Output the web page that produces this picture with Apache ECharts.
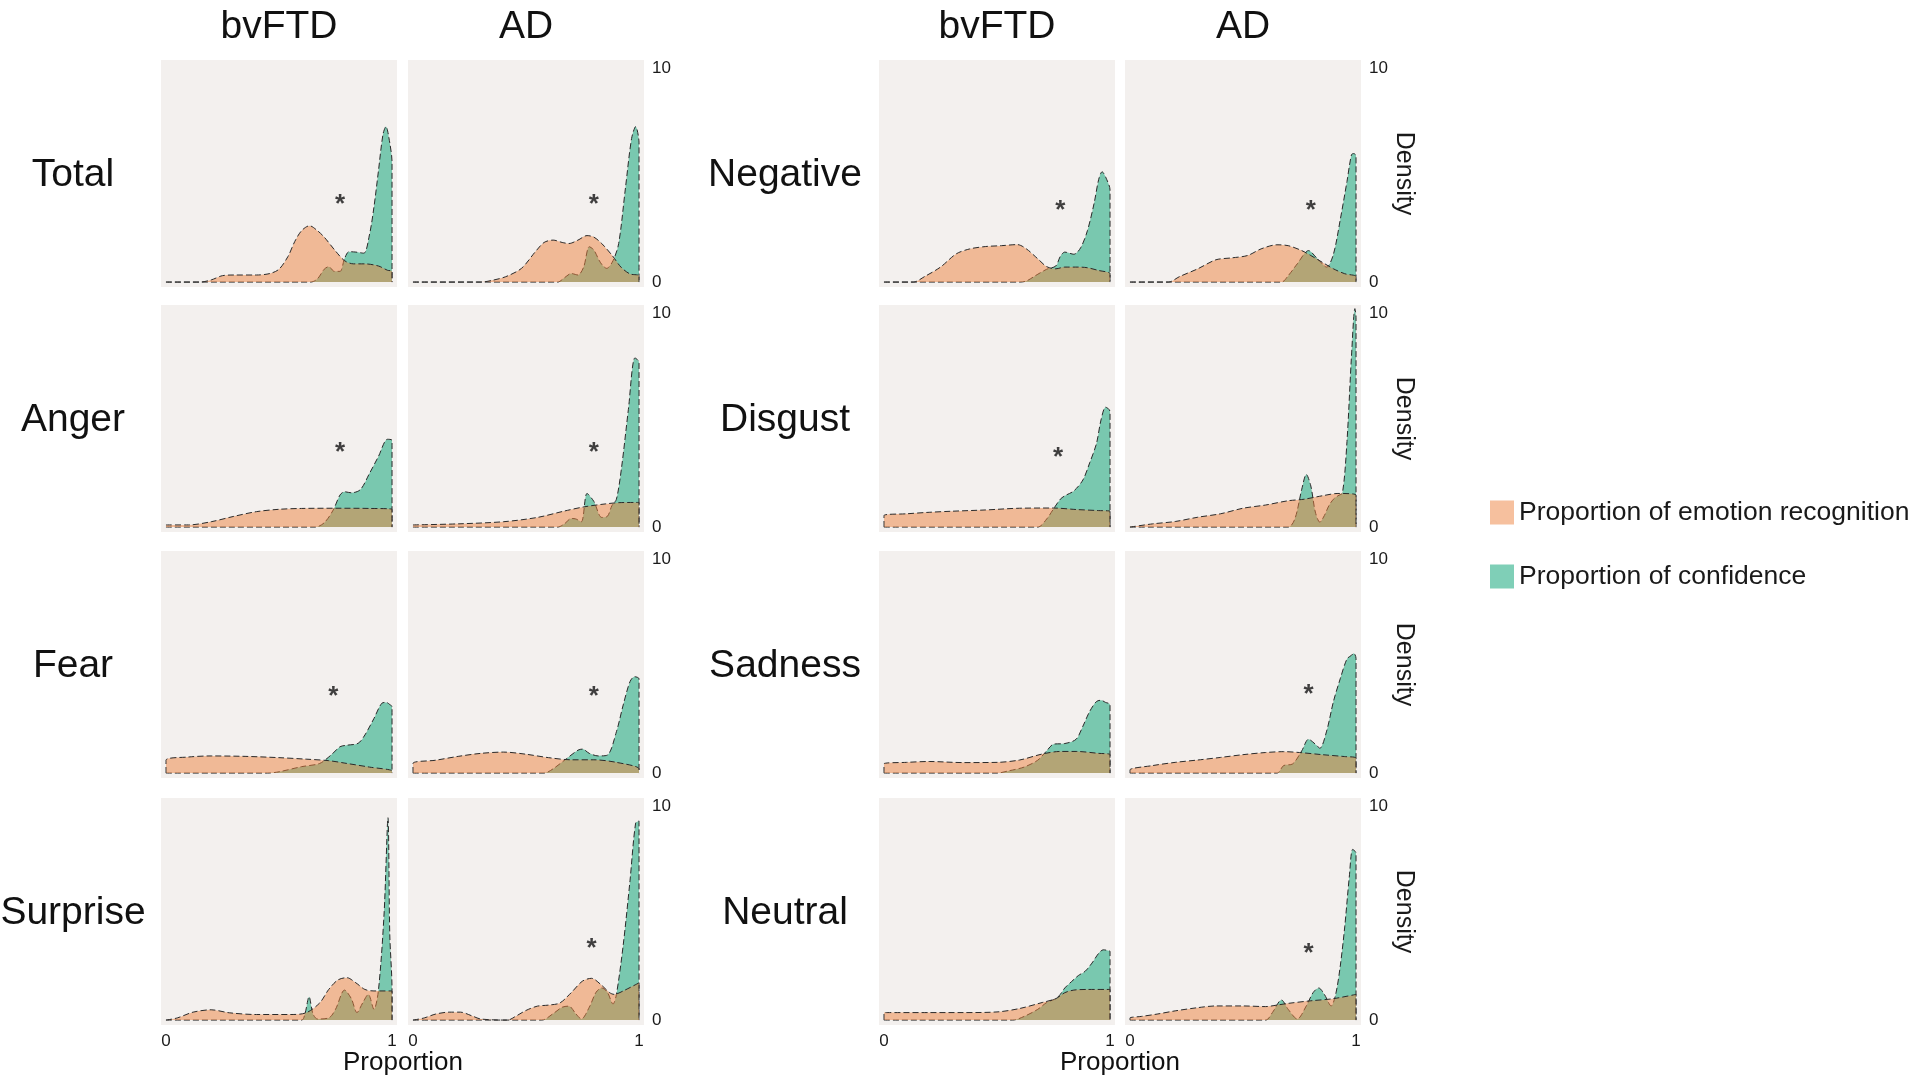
<!DOCTYPE html>
<html>
<head>
<meta charset="utf-8">
<script src="https://cdn.jsdelivr.net/npm/echarts@6/dist/echarts.min.js"></script>
<style>html,body{margin:0;padding:0;background:#fff}#c{width:1920px;height:1083px}</style>
</head>
<body>
<div id="c"></div>
<script>
// ---------- categories / ticks ----------
const groupNames = ['bvFTD', 'AD'];
const rowsLeft = ['Total', 'Anger', 'Fear', 'Surprise'];
const rowsRight = ['Negative', 'Disgust', 'Sadness', 'Neutral'];
const seriesNames = ['Proportion of emotion recognition', 'Proportion of confidence'];
const xTicks = [0, 1];
const yTicks = [0, 10];
const xTitle = 'Proportion';
const yTitle = 'Density';

// ---------- density curves [proportion, density] ----------
const totalBvftdRec = [[0,0],[0.15,0],[0.2,0.1],[0.25,0.3],[0.3,0.33],[0.4,0.33],[0.46,0.4],[0.5,0.6],[0.54,1.2],[0.57,1.9],[0.6,2.4],[0.635,2.63],[0.67,2.4],[0.7,2.1],[0.75,1.45],[0.79,1.0],[0.83,0.85],[0.88,0.85],[0.94,0.75],[0.98,0.55],[1,0.5],[1,0]];
const totalBvftdConf = [[0,0],[0.64,0],[0.67,0.15],[0.7,0.6],[0.72,0.72],[0.745,0.5],[0.77,0.5],[0.79,1.1],[0.81,1.42],[0.84,1.4],[0.875,1.35],[0.9,2.2],[0.92,3.5],[0.94,5.2],[0.96,6.9],[0.973,7.26],[0.99,6.5],[1,5.6],[1,0]];
const totalAdRec = [[0,0],[0.3,0],[0.35,0.08],[0.41,0.25],[0.48,0.64],[0.54,1.4],[0.58,1.85],[0.62,1.96],[0.66,1.85],[0.69,1.8],[0.73,1.96],[0.77,2.17],[0.8,2.1],[0.835,1.8],[0.88,1.26],[0.92,0.7],[0.96,0.38],[1,0.3],[1,0]];
const totalAdConf = [[0,0],[0.64,0],[0.67,0.2],[0.7,0.4],[0.73,0.33],[0.755,0.7],[0.78,1.65],[0.8,1.5],[0.83,0.9],[0.857,0.64],[0.885,1.0],[0.91,1.8],[0.94,4.4],[0.967,6.7],[0.985,7.26],[1,6.5],[1,0]];

const angerBvftdRec = [[0,0.1],[0.1,0.1],[0.2,0.25],[0.3,0.5],[0.4,0.72],[0.5,0.83],[0.6,0.87],[0.75,0.88],[0.9,0.87],[1,0.83],[1,0]];
const angerBvftdConf = [[0,0],[0.66,0],[0.7,0.2],[0.74,0.8],[0.77,1.5],[0.79,1.65],[0.82,1.6],[0.86,1.75],[0.9,2.5],[0.94,3.3],[0.98,4.1],[1,4.05],[1,0]];
const angerAdRec = [[0,0.1],[0.2,0.15],[0.4,0.25],[0.55,0.45],[0.67,0.75],[0.76,0.95],[0.85,1.08],[0.91,1.14],[1,1.15],[1,0]];
const angerAdConf = [[0,0],[0.64,0],[0.67,0.15],[0.7,0.4],[0.72,0.38],[0.745,0.25],[0.77,1.57],[0.8,1.2],[0.835,0.45],[0.86,0.5],[0.88,1.0],[0.9,1.3],[0.923,2.8],[0.953,5.5],[0.982,7.9],[1,7.7],[1,0]];

const fearBvftdRec = [[0,0],[0,0.6],[0.1,0.75],[0.2,0.8],[0.35,0.78],[0.5,0.72],[0.62,0.65],[0.72,0.58],[0.8,0.45],[0.9,0.28],[1,0.1],[1,0]];
const fearBvftdConf = [[0,0],[0.45,0],[0.5,0.06],[0.6,0.3],[0.68,0.45],[0.73,0.84],[0.77,1.23],[0.8,1.3],[0.85,1.39],[0.88,1.78],[0.92,2.55],[0.955,3.26],[0.975,3.3],[0.99,3.2],[1,3.1],[1,0]];
const fearAdRec = [[0,0],[0,0.45],[0.1,0.6],[0.2,0.78],[0.3,0.92],[0.4,0.98],[0.5,0.88],[0.6,0.72],[0.7,0.62],[0.8,0.62],[0.9,0.5],[1,0.2],[1,0]];
const fearAdConf = [[0,0],[0.58,0],[0.62,0.2],[0.68,0.68],[0.73,1.07],[0.75,1.12],[0.78,0.92],[0.82,0.8],[0.86,0.84],[0.9,1.93],[0.93,3.18],[0.96,4.27],[0.98,4.5],[1,4.4],[1,0]];

const surpriseBvftdRec = [[0,0],[0.05,0.1],[0.12,0.37],[0.2,0.48],[0.28,0.34],[0.4,0.26],[0.55,0.26],[0.62,0.34],[0.68,0.8],[0.72,1.43],[0.76,1.87],[0.8,1.98],[0.84,1.74],[0.88,1.43],[0.92,1.36],[1,1.36],[1,0]];
const surpriseBvftdConf = [[0,0],[0.6,0],[0.615,0.3],[0.633,1.09],[0.65,0.3],[0.67,0.05],[0.72,0.1],[0.75,0.5],[0.79,1.4],[0.82,1.0],[0.845,0.35],[0.87,0.8],[0.895,1.2],[0.92,0.5],[0.94,1.4],[0.965,5.0],[0.982,9.45],[0.99,4.0],[1,1.4],[1,0]];
const surpriseAdRec = [[0,0],[0.05,0.1],[0.1,0.28],[0.16,0.37],[0.21,0.37],[0.26,0.2],[0.3,0.05],[0.42,0],[0.45,0.15],[0.5,0.45],[0.55,0.65],[0.6,0.7],[0.65,0.8],[0.7,1.28],[0.75,1.82],[0.79,1.95],[0.83,1.67],[0.87,1.28],[0.89,1.2],[0.93,1.36],[1,1.74],[1,0]];
const surpriseAdConf = [[0,0],[0.57,0],[0.62,0.3],[0.66,0.6],[0.69,0.65],[0.72,0.3],[0.745,0.05],[0.78,0.6],[0.81,1.3],[0.835,1.5],[0.86,1.3],[0.885,0.75],[0.9,1.2],[0.93,3.5],[0.96,6.5],[0.985,9.2],[1,9.3],[1,0]];

const negativeBvftdRec = [[0,0],[0.13,0],[0.18,0.26],[0.25,0.7],[0.32,1.32],[0.38,1.55],[0.45,1.66],[0.52,1.7],[0.59,1.75],[0.63,1.55],[0.68,1.09],[0.72,0.72],[0.76,0.62],[0.8,0.7],[0.86,0.7],[0.9,0.67],[0.95,0.54],[1,0.39],[1,0]];
const negativeBvftdConf = [[0,0],[0.6,0],[0.63,0.05],[0.67,0.3],[0.72,0.6],[0.76,0.75],[0.78,1.2],[0.8,1.4],[0.84,1.3],[0.87,1.6],[0.9,2.4],[0.93,3.7],[0.95,4.8],[0.965,5.15],[0.985,4.8],[1,4.3],[1,0]];
const negativeAdRec = [[0,0],[0.17,0],[0.22,0.26],[0.3,0.62],[0.38,1.04],[0.45,1.13],[0.52,1.24],[0.58,1.55],[0.65,1.74],[0.7,1.7],[0.76,1.47],[0.8,1.24],[0.85,0.93],[0.9,0.62],[0.95,0.39],[1,0.26],[1,0]];
const negativeAdConf = [[0,0],[0.67,0],[0.7,0.3],[0.74,0.85],[0.79,1.47],[0.83,1.08],[0.87,0.7],[0.9,1.3],[0.93,2.9],[0.96,4.7],[0.98,5.95],[0.99,6.0],[1,5.9],[1,0]];

const disgustBvftdRec = [[0,0],[0,0.54],[0.1,0.62],[0.2,0.69],[0.3,0.74],[0.45,0.8],[0.6,0.88],[0.75,0.89],[0.85,0.82],[0.95,0.77],[1,0.74],[1,0]];
const disgustBvftdConf = [[0,0],[0.68,0],[0.72,0.38],[0.75,0.85],[0.78,1.3],[0.8,1.46],[0.84,1.69],[0.88,2.2],[0.91,3.0],[0.94,3.9],[0.96,5.0],[0.98,5.6],[0.99,5.55],[1,5.4],[1,0]];
const disgustAdRec = [[0,0],[0.1,0.15],[0.2,0.26],[0.3,0.46],[0.4,0.62],[0.5,0.88],[0.6,1.03],[0.7,1.23],[0.77,1.3],[0.85,1.46],[0.92,1.57],[1,1.5],[1,0]];
const disgustAdConf = [[0,0],[0.7,0],[0.73,0.4],[0.76,1.77],[0.78,2.46],[0.8,1.92],[0.82,0.7],[0.84,0.23],[0.86,0.54],[0.88,1.0],[0.9,1.3],[0.92,1.46],[0.94,1.6],[0.96,4.0],[0.98,8.0],[0.995,10.2],[1,9.8],[1,0]];

const sadnessBvftdRec = [[0,0],[0,0.43],[0.1,0.5],[0.2,0.54],[0.35,0.49],[0.5,0.5],[0.6,0.61],[0.7,0.89],[0.78,1.01],[0.85,1.01],[0.95,0.92],[1,0.86],[1,0]];
const sadnessBvftdConf = [[0,0],[0.5,0],[0.55,0.1],[0.62,0.28],[0.68,0.6],[0.72,1.04],[0.75,1.35],[0.8,1.38],[0.85,1.58],[0.88,2.19],[0.91,2.88],[0.94,3.34],[0.96,3.4],[0.98,3.3],[1,3.2],[1,0]];
const sadnessAdRec = [[0,0],[0,0.15],[0.1,0.35],[0.2,0.5],[0.3,0.61],[0.4,0.73],[0.5,0.86],[0.6,0.96],[0.68,1.0],[0.75,0.96],[0.85,0.86],[0.95,0.77],[1,0.7],[1,0]];
const sadnessAdConf = [[0,0],[0.65,0],[0.68,0.35],[0.72,0.43],[0.76,1.04],[0.79,1.58],[0.82,1.35],[0.84,1.16],[0.87,1.96],[0.9,3.34],[0.93,4.4],[0.96,5.33],[0.98,5.5],[0.99,5.6],[1,5.36],[1,0]];

const neutralBvftdRec = [[0,0],[0,0.35],[0.2,0.35],[0.35,0.35],[0.5,0.38],[0.6,0.54],[0.7,0.82],[0.76,1.0],[0.8,1.28],[0.84,1.4],[0.9,1.43],[1,1.43],[1,0]];
const neutralBvftdConf = [[0,0],[0.57,0],[0.62,0.17],[0.68,0.5],[0.72,0.82],[0.76,1.0],[0.78,1.2],[0.8,1.5],[0.83,1.8],[0.86,2.08],[0.89,2.28],[0.92,2.66],[0.95,3.12],[0.97,3.28],[0.99,3.25],[1,3.2],[1,0]];
const neutralAdRec = [[0,0],[0,0.1],[0.05,0.17],[0.12,0.28],[0.2,0.43],[0.3,0.58],[0.38,0.66],[0.5,0.66],[0.6,0.63],[0.65,0.7],[0.7,0.78],[0.8,0.9],[0.9,1.0],[1,1.2],[1,0]];
const neutralAdConf = [[0,0],[0.6,0],[0.63,0.35],[0.67,0.94],[0.7,0.5],[0.74,0.05],[0.78,0.66],[0.81,1.28],[0.835,1.5],[0.86,1.2],[0.89,0.66],[0.91,1.2],[0.93,2.5],[0.95,4.35],[0.97,6.66],[0.985,7.97],[1,7.8],[1,0]];

// ---------- significance markers [proportion, density] ----------
const starTotalBvftd = [0.77, 3.85];
const starTotalAd = [0.80, 3.85];
const starAngerBvftd = [0.77, 3.7];
const starAngerAd = [0.80, 3.7];
const starFearBvftd = [0.74, 3.8];
const starFearAd = [0.80, 3.8];
const starSurpriseAd = [0.79, 3.55];
const starNegativeBvftd = [0.78, 3.55];
const starNegativeAd = [0.80, 3.55];
const starDisgustBvftd = [0.77, 3.45];
const starSadnessAd = [0.79, 3.9];
const starNeutralAd = [0.79, 3.35];

// ---------- panel table built from the arrays ----------
const panels = [
  {g:0,r:0,c:0,rec:totalBvftdRec,conf:totalBvftdConf,star:starTotalBvftd},
  {g:0,r:0,c:1,rec:totalAdRec,conf:totalAdConf,star:starTotalAd},
  {g:0,r:1,c:0,rec:angerBvftdRec,conf:angerBvftdConf,star:starAngerBvftd},
  {g:0,r:1,c:1,rec:angerAdRec,conf:angerAdConf,star:starAngerAd},
  {g:0,r:2,c:0,rec:fearBvftdRec,conf:fearBvftdConf,star:starFearBvftd},
  {g:0,r:2,c:1,rec:fearAdRec,conf:fearAdConf,star:starFearAd},
  {g:0,r:3,c:0,rec:surpriseBvftdRec,conf:surpriseBvftdConf,star:null},
  {g:0,r:3,c:1,rec:surpriseAdRec,conf:surpriseAdConf,star:starSurpriseAd},
  {g:1,r:0,c:0,rec:negativeBvftdRec,conf:negativeBvftdConf,star:starNegativeBvftd},
  {g:1,r:0,c:1,rec:negativeAdRec,conf:negativeAdConf,star:starNegativeAd},
  {g:1,r:1,c:0,rec:disgustBvftdRec,conf:disgustBvftdConf,star:starDisgustBvftd},
  {g:1,r:1,c:1,rec:disgustAdRec,conf:disgustAdConf,star:null},
  {g:1,r:2,c:0,rec:sadnessBvftdRec,conf:sadnessBvftdConf,star:null},
  {g:1,r:2,c:1,rec:sadnessAdRec,conf:sadnessAdConf,star:starSadnessAd},
  {g:1,r:3,c:0,rec:neutralBvftdRec,conf:neutralBvftdConf,star:null},
  {g:1,r:3,c:1,rec:neutralAdRec,conf:neutralAdConf,star:starNeutralAd}
];

// ---------- layout / style ----------
const FONT = '"Liberation Sans", Arial, Helvetica, sans-serif';
const ORANGE = 'rgba(237,130,62,0.5)';
const GREEN = 'rgba(0,160,112,0.5)';
const OUTLINE = {color:'#2a2a2a', width:1, type:[6,3]};
const lefts = [[161,408],[879,1125]];
const tops = [60,305,551,798];
const W = 236, H = 227;

const grid = [], xAxis = [], yAxis = [], series = [];
panels.forEach((p, i) => {
  const L = lefts[p.g][p.c], T = tops[p.r];
  grid.push({left:L, top:T, width:W, height:H, show:true, backgroundColor:'#f3f0ee', borderWidth:0});
  xAxis.push({
    type:'value', gridIndex:i, min:-0.022, max:1.022,
    axisLine:{show:false}, axisTick:{show:false}, splitLine:{show:false},
    axisLabel:{show:p.r===3, customValues:xTicks, margin:8, fontSize:17, color:'#1a1a1a', fontFamily:FONT}
  });
  yAxis.push({
    type:'value', gridIndex:i, position:'right', min:-0.23, max:10.37,
    axisLine:{show:false}, axisTick:{show:false}, splitLine:{show:false},
    axisLabel:{show:p.c===1, customValues:yTicks, margin:8, fontSize:17, color:'#1a1a1a', fontFamily:FONT},
    name:(p.g===1 && p.c===1) ? yTitle : '', nameLocation:'middle', nameRotate:-90, nameGap:30,
    nameTextStyle:{fontSize:25, color:'#1a1a1a', fontFamily:FONT}
  });
  series.push({
    type:'line', name:seriesNames[1], xAxisIndex:i, yAxisIndex:i, data:p.conf,
    smooth:0.3, symbol:'none', itemStyle:{color:GREEN}, lineStyle:OUTLINE,
    areaStyle:{color:GREEN, opacity:1}, z:2, silent:true
  });
  series.push({
    type:'line', name:seriesNames[0], xAxisIndex:i, yAxisIndex:i, data:p.rec,
    smooth:0.3, symbol:'none', itemStyle:{color:ORANGE}, lineStyle:OUTLINE,
    areaStyle:{color:ORANGE, opacity:1}, z:3, silent:true
  });
  if (p.star) {
    series.push({
      type:'scatter', xAxisIndex:i, yAxisIndex:i, data:[p.star], symbolSize:1,
      itemStyle:{color:'transparent'}, silent:true, z:5,
      label:{show:true, position:'inside', formatter:'*', fontSize:26, fontWeight:'bold', color:'#111', fontFamily:FONT, offset:[0,5]}
    });
  }
});

const textEl = (txt, x, y, size) => ({
  type:'text', x:x, y:y, silent:true,
  style:{text:txt, fontSize:size, fontFamily:FONT, fill:'#111',
         align:'center', verticalAlign:'middle', textAlign:'center', textVerticalAlign:'middle'}
});
const graphic = [];
[[279,526],[997,1243]].forEach(cols => cols.forEach((cx, c) => graphic.push(textEl(groupNames[c], cx, 27, 39))));
rowsLeft.forEach((t, r) => graphic.push(textEl(t, 73, tops[r] + H/2 + 2, 39)));
rowsRight.forEach((t, r) => graphic.push(textEl(t, 785, tops[r] + H/2 + 2, 39)));
graphic.push(textEl(xTitle, 403, 1063, 26));
graphic.push(textEl(xTitle, 1120, 1063, 26));

const chart = echarts.init(document.getElementById('c'), null, {renderer:'canvas'});
chart.setOption({
  backgroundColor:'#ffffff',
  animation:false,
  grid, xAxis, yAxis, series, graphic,
  legend:{
    orient:'vertical', left:1485, top:494, itemWidth:24, itemHeight:24, itemGap:37,
    selectedMode:false, icon:'rect',
    textStyle:{fontSize:26.5, color:'#1a1a1a', fontFamily:FONT},
    data:[
      {name:seriesNames[0], itemStyle:{color:ORANGE, borderWidth:0}},
      {name:seriesNames[1], itemStyle:{color:GREEN, borderWidth:0}}
    ]
  }
});
</script>
</body>
</html>
